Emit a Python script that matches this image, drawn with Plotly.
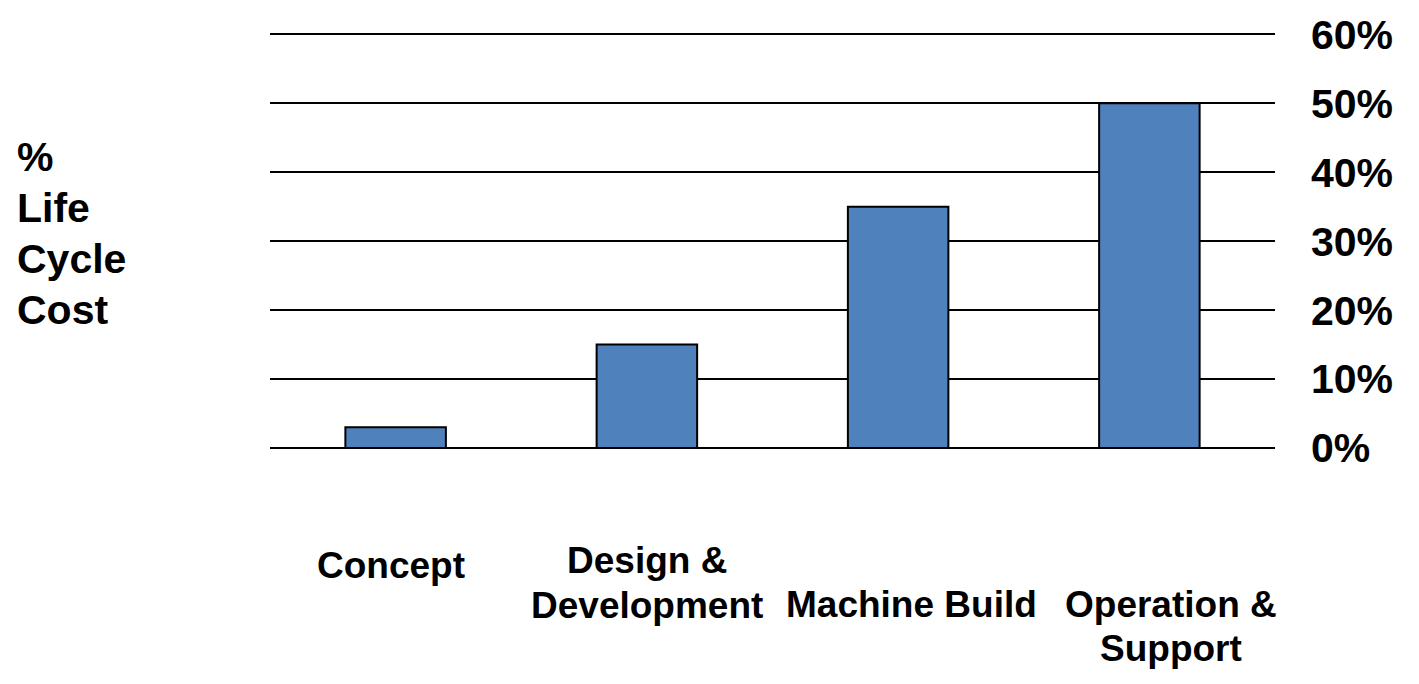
import plotly.graph_objects as go

categories = ["Concept", "Design &<br>Development", "Machine Build", "Operation &<br>Support"]
values = [3, 15, 35, 50]
tick_vals = [0, 10, 20, 30, 40, 50, 60]
tick_text = ["0%", "10%", "20%", "30%", "40%", "50%", "60%"]
y_title_lines = ["%", "Life", "Cycle", "Cost"]

FONT = "Arial, 'Liberation Sans', sans-serif"

fig = go.Figure()
fig.add_trace(go.Bar(
    x=categories, y=values, width=0.4,
    marker=dict(color="#4F81BD", line=dict(color="#000000", width=2)),
))

# category labels (staggered, like the original)
label_center_y = [[565], [560, 605], [604], [604, 648]]
label_xshift = [-5, 0, 13, 22]
annotations = []
for cat, ys, xs in zip(categories, label_center_y, label_xshift):
    for line, py in zip(cat.split("<br>"), ys):
        annotations.append(dict(
            x=cat, xref="x", y=0, yref="paper", yshift=-(py - 448),
            xshift=xs, text=line, showarrow=False,
            xanchor="center", yanchor="middle",
            font=dict(family=FONT, size=37, color="#000", weight="bold"),
        ))

for i, line in enumerate(y_title_lines):
    annotations.append(dict(
        x=0, xref="paper", xshift=15 - 270, xanchor="left",
        y=0, yref="paper", yshift=-(157 + 51 * i - 448), yanchor="middle",
        text=line, showarrow=False,
        font=dict(family=FONT, size=41, color="#000", weight="bold"),
    ))

fig.update_layout(
    width=1419, height=684,
    margin=dict(l=270, r=144, t=27, b=236),
    paper_bgcolor="white", plot_bgcolor="white",
    showlegend=False,
    bargap=0.6,
    annotations=annotations,
    xaxis=dict(showticklabels=False, ticks="", showgrid=False, zeroline=False,
               showline=False, range=[-0.5, 3.5]),
    yaxis=dict(range=[0, 60.5], side="right", tickvals=tick_vals, ticktext=tick_text,
               showgrid=True, gridcolor="#000000", gridwidth=1.5,
               zeroline=True, zerolinecolor="#000000", zerolinewidth=1.5,
               showline=False, ticks="", ticklabelstandoff=35,
               tickfont=dict(family=FONT, size=41, color="#000", weight="bold")),
    font=dict(family=FONT, color="#000"),
)

fig.write_html("out.html")
